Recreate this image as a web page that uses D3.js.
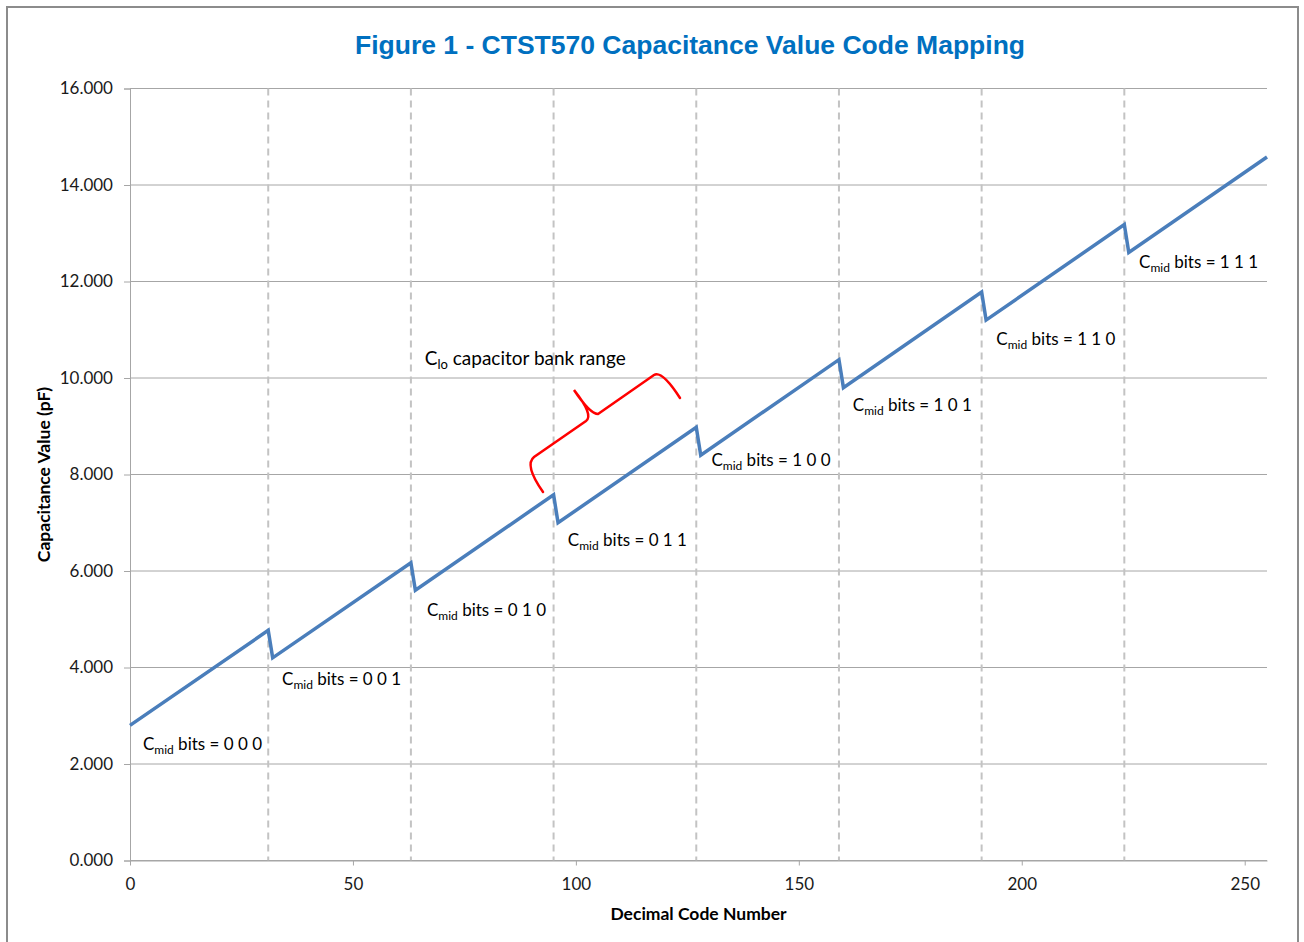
<!DOCTYPE html>
<html>
<head>
<meta charset="utf-8">
<script src="https://cdn.jsdelivr.net/npm/d3@7"></script>
<style>
  body { margin: 0; background: #fff; }
  text { fill: #000; }
</style>
</head>
<body>
<div id="vis"></div>
<script>
// Frame constants
const FRAME_WIDTH = 1304;
const FRAME_HEIGHT = 942;
const MARGINS = {left: 130, right: 37, top: 88.5, bottom: 81.5};
const VIS_WIDTH = FRAME_WIDTH - MARGINS.left - MARGINS.right;
const VIS_HEIGHT = FRAME_HEIGHT - MARGINS.top - MARGINS.bottom;
const BODY_FONT = "Lato, 'Open Sans', sans-serif";

// data: each Cmid segment runs 32 codes, linear in code
const segFirstCode = [0, 32, 64, 96, 128, 160, 192, 224];
const segLastCode = [31, 63, 95, 127, 159, 191, 223, 255];
const segStartValue = [2.80, 4.20, 5.60, 7.00, 8.40, 9.80, 11.20, 12.60];
const segEndValue = [4.77, 6.17, 7.58, 8.98, 10.38, 11.78, 13.18, 14.58];

// dashed boundaries between segments
const boundaryCodes = [31, 63, 95, 127, 159, 191, 223];

// tick labels
const xTicks = [0, 50, 100, 150, 200, 250];
const yTicks = [0, 2, 4, 6, 8, 10, 12, 14, 16];

// segment labels (anchored in data units)
const labelBits = ["0 0 0", "0 0 1", "0 1 0", "0 1 1", "1 0 0", "1 0 1", "1 1 0", "1 1 1"];
const labelCode = [2.9, 34.1, 66.6, 98.2, 130.4, 162.1, 194.3, 226.3];
const labelValue = [2.28, 3.64, 5.07, 6.52, 8.17, 9.31, 10.68, 12.28];

// red brace, in data units
const braceStart = [92.63, 7.637];
const braceParts = [
  ["Q", [88.37, 8.197], [90.61, 8.363]],
  ["L", [102.27, 9.109]],
  ["Q", [104.06, 9.233], [99.58, 9.751]],
  ["Q", [103.17, 9.254], [104.96, 9.254]],
  ["L", [117.52, 10.062]],
  ["Q", [119.31, 10.166], [123.35, 9.585]]
];

const FRAME = d3.select("#vis")
  .append("svg")
    .attr("width", FRAME_WIDTH)
    .attr("height", FRAME_HEIGHT)
    .style("font-family", BODY_FONT);

// outer chart border
FRAME.append("rect")
  .attr("x", 7).attr("y", 7)
  .attr("width", 1291).attr("height", 960)
  .attr("fill", "#fff")
  .attr("stroke", "#8c8c8c")
  .attr("stroke-width", 2);

const X_SCALE = d3.scaleLinear().domain([0, 255]).range([MARGINS.left, MARGINS.left + VIS_WIDTH]);
const Y_SCALE = d3.scaleLinear().domain([0, 16]).range([MARGINS.top + VIS_HEIGHT, MARGINS.top]);

// horizontal gridlines
FRAME.append("g")
  .selectAll("line")
  .data(yTicks)
  .enter()
  .append("line")
    .attr("x1", X_SCALE(0))
    .attr("x2", X_SCALE(255))
    .attr("y1", (d) => Y_SCALE(d))
    .attr("y2", (d) => Y_SCALE(d))
    .attr("stroke", "#a6a6a6")
    .attr("stroke-width", 1);

// dashed segment boundaries
FRAME.append("g")
  .selectAll("line")
  .data(boundaryCodes)
  .enter()
  .append("line")
    .attr("x1", (d) => X_SCALE(d))
    .attr("x2", (d) => X_SCALE(d))
    .attr("y1", Y_SCALE(16))
    .attr("y2", Y_SCALE(0))
    .attr("stroke", "#c3c3c3")
    .attr("stroke-width", 2)
    .attr("stroke-dasharray", "7,5");

// y axis
const yAxis = FRAME.append("g")
  .attr("transform", "translate(" + MARGINS.left + ",0)")
  .call(d3.axisLeft(Y_SCALE).tickValues(yTicks).tickFormat(d3.format(".3f")).tickSize(6).tickPadding(11));
yAxis.select(".domain").attr("stroke", "#a6a6a6");
yAxis.selectAll(".tick line").attr("stroke", "#a6a6a6");
yAxis.selectAll("text").style("font-size", "17px").style("fill", "#1a1a1a")
  .style("font-family", BODY_FONT);

// x axis
const xAxis = FRAME.append("g")
  .attr("transform", "translate(0," + Y_SCALE(0) + ")")
  .call(d3.axisBottom(X_SCALE).tickValues(xTicks).tickSize(5).tickPadding(12).tickSizeOuter(0));
xAxis.select(".domain").attr("stroke", "#a6a6a6");
xAxis.selectAll(".tick line").attr("stroke", "#a6a6a6");
xAxis.selectAll("text").style("font-size", "17px").style("fill", "#1a1a1a")
  .style("font-family", BODY_FONT);

// build the sawtooth points from segment ends
const points = [];
segFirstCode.forEach((c, i) => {
  points.push([c, segStartValue[i]]);
  points.push([segLastCode[i], segEndValue[i]]);
});

const line = d3.line()
  .x((d) => X_SCALE(d[0]))
  .y((d) => Y_SCALE(d[1]));

FRAME.append("path")
  .datum(points)
  .attr("d", line)
  .attr("fill", "none")
  .attr("stroke", "#4a7ebb")
  .attr("stroke-width", 3.5)
  .attr("stroke-linejoin", "miter");

// segment labels
const labels = FRAME.append("g")
  .selectAll("text")
  .data(labelBits)
  .enter()
  .append("text")
    .attr("x", (d, i) => X_SCALE(labelCode[i]))
    .attr("y", (d, i) => Y_SCALE(labelValue[i]))
    .style("font-size", "17px");
labels.append("tspan").text("C");
labels.append("tspan").style("font-size", "12px").attr("dy", 4).text("mid");
labels.append("tspan").attr("dy", -4).text((d) => " bits = " + d);

// brace annotation
const bp = d3.path();
bp.moveTo(X_SCALE(braceStart[0]), Y_SCALE(braceStart[1]));
braceParts.forEach((p) => {
  if (p[0] === "L") {
    bp.lineTo(X_SCALE(p[1][0]), Y_SCALE(p[1][1]));
  } else {
    bp.quadraticCurveTo(X_SCALE(p[1][0]), Y_SCALE(p[1][1]), X_SCALE(p[2][0]), Y_SCALE(p[2][1]));
  }
});
FRAME.append("path")
  .attr("d", bp.toString())
  .attr("fill", "none")
  .attr("stroke", "#ff0000")
  .attr("stroke-width", 2.5)
  .attr("stroke-linecap", "round");

const clo = FRAME.append("text")
  .attr("x", X_SCALE(66.1))
  .attr("y", Y_SCALE(10.27))
  .style("font-size", "19px");
clo.append("tspan").text("C");
clo.append("tspan").style("font-size", "13px").attr("dy", 4).text("lo");
clo.append("tspan").attr("dy", -4).text(" capacitor bank range");

// title
FRAME.append("text")
  .attr("x", 690)
  .attr("y", 54)
  .attr("text-anchor", "middle")
  .style("font-family", "'Liberation Sans', Arial, sans-serif")
  .style("font-weight", "bold")
  .style("font-size", "26.5px")
  .style("fill", "#0070c0")
  .text("Figure 1 - CTST570 Capacitance Value Code Mapping");

// axis titles
FRAME.append("text")
  .attr("x", (X_SCALE(0) + X_SCALE(255)) / 2)
  .attr("y", 920)
  .attr("text-anchor", "middle")
  .style("font-weight", "bold")
  .style("font-size", "17.5px")
  .text("Decimal Code Number");

FRAME.append("text")
  .attr("transform", "translate(50," + (Y_SCALE(8)) + ") rotate(-90)")
  .attr("text-anchor", "middle")
  .style("font-weight", "bold")
  .style("font-size", "17.5px")
  .text("Capacitance Value (pF)");
</script>
</body>
</html>
